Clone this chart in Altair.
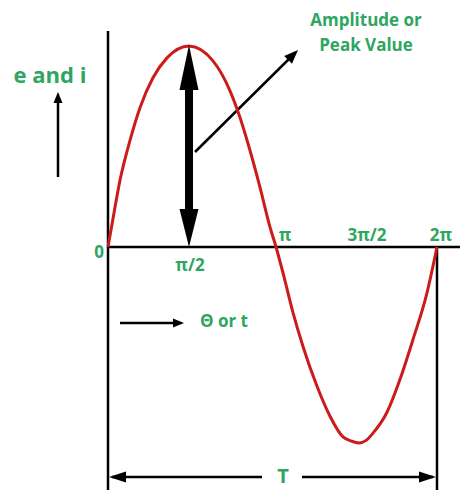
import math
import altair as alt
import pandas as pd

# ---- curve values (theta in rad, value in units of the peak) ----
theta = [0.0, 0.101, 0.229, 0.420, 0.611, 0.859, 1.127, 1.547, 2.005, 2.330, 2.521,
         2.712, 2.903, 3.094, 3.209, 3.342, 3.533, 3.724, 3.992, 4.240, 4.488, 4.650,
         4.790, 4.930, 5.061, 5.328, 5.577, 5.825, 6.092, 6.283]
value = [0.0, 0.149, 0.332, 0.530, 0.693, 0.842, 0.941, 1.000, 0.926, 0.777, 0.644,
         0.480, 0.297, 0.099, 0.0, -0.129, -0.327, -0.495, -0.693, -0.842, -0.945, -0.966,
         -0.975, -0.962, -0.926, -0.822, -0.658, -0.460, -0.228, 0.0]

tick_values = [0.0, 1.571, 3.142, 4.712, 6.283]
tick_labels = ["0", "π/2", "π", "3π/2", "2π"]

GREEN = "#2ea65f"
RED = "#cc1b1b"
FONT = "Open Sans"

# ---- page geometry helpers (page pixels -> data units) ----
W, H = 452, 482
X0_PX, Y0_PX = 108, 247
PX_PER_RAD = 329 / (2 * math.pi)
PX_PER_V = 201


def tx(px):
    return (px - X0_PX) / PX_PER_RAD


def vy(py):
    return (Y0_PX - py) / PX_PER_V


x_dom = [tx(8), tx(8 + W)]
y_dom = [vy(8 + H), vy(8)]
xs = alt.Scale(domain=x_dom, nice=False, zero=False)
ys = alt.Scale(domain=y_dom, nice=False, zero=False)

BOTTOM = 8 + H + 2
T_Y = 477

# ---- lines (axes, arrow shafts) ----
rules = pd.DataFrame([
    # x1, y1, x2, y2, width (page px)
    (108, 31, 108, BOTTOM, 2.5),    # vertical axis
    (108, 247, 470, 247, 2.5),      # horizontal axis
    (437, 247, 437, BOTTOM, 2.5),   # line at 2π
    (112, T_Y, 262, T_Y, 2.5),      # T arrow left
    (302, T_Y, 433, T_Y, 2.5),      # T arrow right
    (189, 85, 189, 212, 8),         # amplitude double arrow shaft
    (195, 152, 292, 56, 2.5),       # pointer to label
    (58, 177, 58, 100, 2.5),        # e and i arrow
    (120, 323, 176, 323, 2.5),      # Θ or t arrow
], columns=["x1", "y1", "x2", "y2", "sw"])
rules["x"] = rules["x1"].map(tx)
rules["x2"] = rules["x2"].map(tx)
rules["y"] = rules["y1"].map(vy)
rules["y2"] = rules["y2"].map(vy)

# ---- arrowheads ----
heads = pd.DataFrame([
    # tip x, tip y, angle, length, half width
    (109, T_Y, 180, 17, 5.5),
    (436, T_Y, 0, 17, 5.5),
    (189, 45, 270, 45, 9.5),
    (189, 247, 90, 38, 9.5),
    (298, 50, 315, 14, 5.5),
    (58, 92, 270, 11, 4.5),
    (184, 323, 0, 11, 4.5),
], columns=["px", "py", "angle", "L", "hw"])
heads["x"] = heads["px"].map(tx)
heads["y"] = heads["py"].map(vy)
heads["size"] = heads["L"] ** 2
heads["path"] = [f"M0,0 L-2,{-2*hw/L:.3f} L-2,{2*hw/L:.3f} Z" for L, hw in zip(heads["L"], heads["hw"])]

# ---- texts ----
label_px = [(99, 253), (190, 266), (285, 236), (367, 236), (441, 236)]
texts = pd.DataFrame(
    [(t, px, py, 17) for t, (px, py) in zip(tick_labels, label_px)] + [
        ("e and i", 50, 76, 22),
        ("Amplitude or", 366, 21, 17),
        ("Peak Value", 366, 46, 17),
        ("Θ or t", 224, 322, 17),
        ("T", 283, T_Y, 20),
    ], columns=["text", "px", "py", "fs"])
texts["x"] = texts["px"].map(tx)
texts["y"] = texts["py"].map(vy)

curve = pd.DataFrame({"theta": theta, "value": value})

rule_layer = alt.Chart(rules).mark_rule(color="black", strokeCap="butt").encode(
    x=alt.X("x:Q", scale=xs, axis=None),
    x2="x2:Q",
    y=alt.Y("y:Q", scale=ys, axis=None),
    y2="y2:Q",
    strokeWidth=alt.StrokeWidth("sw:Q", scale=None, legend=None),
)

curve_layer = alt.Chart(curve).mark_line(color=RED, strokeWidth=3, interpolate="monotone").encode(
    x=alt.X("theta:Q", scale=xs, axis=None),
    y=alt.Y("value:Q", scale=ys, axis=None),
)

head_layer = alt.Chart(heads).mark_point(filled=True, color="black", opacity=1, strokeWidth=0).encode(
    x=alt.X("x:Q", scale=xs, axis=None),
    y=alt.Y("y:Q", scale=ys, axis=None),
    shape=alt.Shape("path:N", scale=None, legend=None),
    size=alt.Size("size:Q", scale=None, legend=None),
    angle=alt.Angle("angle:Q", scale=None, legend=None),
)

text_layer = alt.Chart(texts).mark_text(
    font=FONT, fontWeight="bold", color=GREEN, align="center", baseline="middle"
).encode(
    x=alt.X("x:Q", scale=xs, axis=None),
    y=alt.Y("y:Q", scale=ys, axis=None),
    text="text:N",
    size=alt.Size("fs:Q", scale=None, legend=None),
)

chart = alt.layer(rule_layer, curve_layer, head_layer, text_layer).properties(
    width=W, height=H, padding=0, autosize="none", background="white"
).configure_view(stroke=None)

chart.save("out.html", embed_options={"renderer": "svg", "actions": False})
